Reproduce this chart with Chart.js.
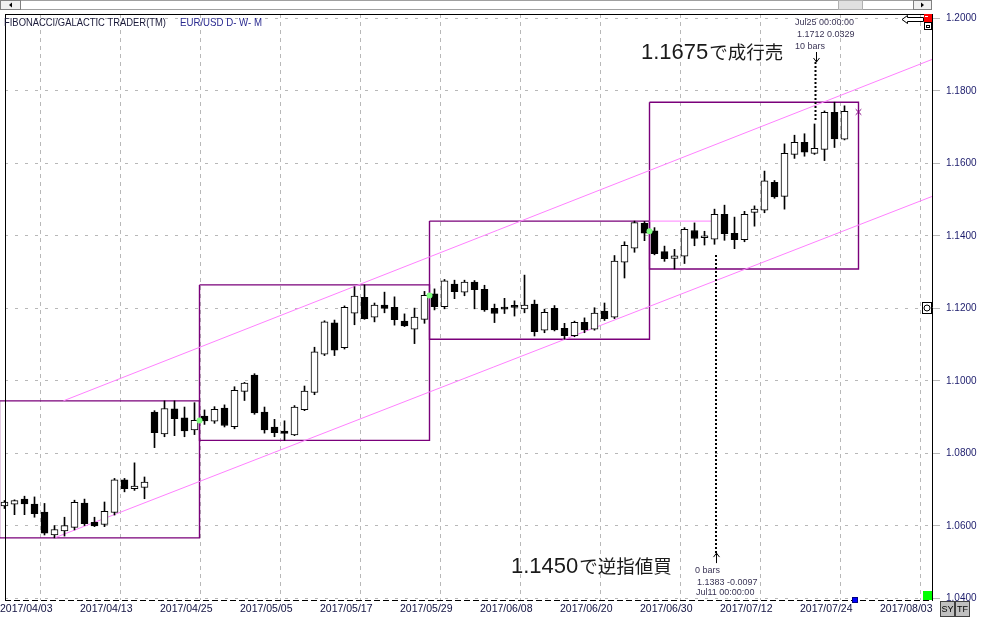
<!DOCTYPE html>
<html>
<head>
<meta charset="utf-8">
<script src="https://cdn.jsdelivr.net/npm/chart.js@4.4.1/dist/chart.umd.min.js"></script>
<style>
html, body { margin: 0; padding: 0; background: #fff; }
#wrap { width: 988px; height: 618px; }
</style>
</head>
<body>
<div id="wrap"><canvas id="myChart" width="988" height="618"></canvas></div>
<script>
// EUR/USD daily bars, 2017/04/03 .. 2017/07/28 (index 0 = 04/03)
const opens = [1.0655,1.0660,1.0674,1.0660,1.0638,1.0575,1.0586,1.0596,1.0663,1.0610,
    1.0604,1.0637,1.0727,1.0703,1.0706,1.0914,1.0854,1.0923,1.0898,1.0865,
    1.0903,1.0889,1.0925,1.0874,1.0971,1.1016,1.0914,1.0873,1.0862,1.0851,
    1.0921,1.0968,1.1074,1.1160,1.1092,1.1187,1.1231,1.1176,1.1209,1.1203,
    1.1165,1.1143,1.1170,1.1240,1.1205,1.1267,1.1245,1.1273,1.1253,1.1200,
    1.1199,1.1204,1.1199,1.1212,1.1140,1.1200,1.1145,1.1125,1.1162,1.1143,
    1.1193,1.1176,1.1328,1.1366,1.1435,1.1414,1.1357,1.1338,1.1344,1.1415,
    1.1395,1.1391,1.1460,1.1407,1.1390,1.1465,1.1471,1.1548,1.1509,1.1625,
    1.1658,1.1628,1.1639,1.1741,1.1667];
const highs = [1.0670,1.0672,1.0682,1.0680,1.0662,1.0601,1.0624,1.0671,1.0674,1.0624,
    1.0666,1.0731,1.0731,1.0774,1.0735,1.0918,1.0945,1.0945,1.0928,1.0940,
    1.0920,1.0929,1.0934,1.0984,1.0996,1.1020,1.0928,1.0894,1.0890,1.0932,
    1.0986,1.1093,1.1166,1.1168,1.1207,1.1260,1.1265,1.1215,1.1245,1.1232,
    1.1185,1.1201,1.1247,1.1254,1.1280,1.1278,1.1278,1.1277,1.1264,1.1212,
    1.1228,1.1221,1.1292,1.1223,1.1198,1.1208,1.1159,1.1165,1.1174,1.1202,
    1.1215,1.1346,1.1384,1.1441,1.1440,1.1423,1.1372,1.1363,1.1423,1.1436,
    1.1413,1.1474,1.1485,1.1452,1.1468,1.1483,1.1579,1.1553,1.1654,1.1678,
    1.1682,1.1709,1.1745,1.1769,1.1759];
const lows = [1.0648,1.0631,1.0631,1.0624,1.0575,1.0567,1.0572,1.0589,1.0601,1.0598,
    1.0598,1.0630,1.0694,1.0698,1.0675,1.0816,1.0846,1.0849,1.0846,1.0852,
    1.0880,1.0883,1.0873,1.0868,1.0946,1.0908,1.0856,1.0846,1.0836,1.0849,
    1.0918,1.0962,1.1070,1.1070,1.1088,1.1155,1.1170,1.1163,1.1188,1.1154,
    1.1150,1.1103,1.1159,1.1196,1.1199,1.1227,1.1235,1.1199,1.1192,1.1161,
    1.1186,1.1179,1.1188,1.1124,1.1133,1.1138,1.1115,1.1122,1.1133,1.1140,
    1.1167,1.1172,1.1284,1.1355,1.1387,1.1348,1.1330,1.1309,1.1324,1.1373,
    1.1375,1.1377,1.1388,1.1365,1.1384,1.1427,1.1464,1.1504,1.1474,1.1614,
    1.1620,1.1625,1.1608,1.1644,1.1665];
const closes = [1.0666,1.0670,1.0661,1.0634,1.0580,1.0590,1.0601,1.0665,1.0606,1.0600,
    1.0640,1.0727,1.0703,1.0710,1.0721,1.0857,1.0924,1.0896,1.0862,1.0891,
    1.0890,1.0922,1.0877,1.0974,1.0994,1.0912,1.0865,1.0857,1.0855,1.0928,
    1.0972,1.1080,1.1163,1.1085,1.1203,1.1234,1.1172,1.1209,1.1200,1.1169,
    1.1152,1.1176,1.1236,1.1205,1.1276,1.1246,1.1273,1.1252,1.1196,1.1186,
    1.1198,1.1203,1.1209,1.1136,1.1189,1.1141,1.1125,1.1162,1.1141,1.1187,
    1.1172,1.1331,1.1374,1.1437,1.1408,1.1351,1.1337,1.1345,1.1418,1.1393,
    1.1396,1.1460,1.1406,1.1390,1.1460,1.1474,1.1552,1.1508,1.1628,1.1658,
    1.1631,1.1642,1.1741,1.1668,1.1744];

// date labels every 8 bars (placed on the gap before the bar)
const tickLabels = ['2017/04/03','2017/04/13','2017/04/25','2017/05/05','2017/05/17','2017/05/29',
    '2017/06/08','2017/06/20','2017/06/30','2017/07/12','2017/07/24','2017/08/03'];
const tickBars = [-0.45, 7.55, 15.55, 23.55, 31.55, 39.55, 47.55, 55.55, 63.55, 71.55, 79.55, 87.55];
const priceTicks = [1.04, 1.06, 1.08, 1.10, 1.12, 1.14, 1.16, 1.18, 1.20];

// range boxes: bars covered and their edges
const boxRanges = [[0, 19], [20, 42], [43, 64], [65, 84]];
const boxEdges = [-0.5, 19.5, 42.5, 64.5, 85.4];

// channel lines [bar, price]
const upperLine = [[5.88, 1.0945], [92.75, 1.1887]];
const lowerLine = [[5.0, 1.0567], [92.75, 1.1509]];
const stopLine = [[64.5, 1.1441], [71.2, 1.1441]];

// dotted markers
const sellMark = {bar: 81.1, from: 1.1880, to: 1.1718};
const buyMark = {bar: 71.15, from: 1.0525, to: 1.1353};
const greenDots = [[19.5, 1.0891], [42.5, 1.1236], [64.5, 1.1413]];
const endMark = [[85.4, 1.1742]];

const clipOpt = {left: 5, top: 0, right: 0, bottom: 0};
const pts = arr => arr.map(p => ({x: p[0], y: p[1]}));

let wicks = [], bodies = [], bodyColors = [];
opens.forEach((o, i) => {
    wicks.push({x: i, y: [lows[i], highs[i]]});
    bodies.push({x: i, y: [o, closes[i]]});
    bodyColors.push(closes[i] >= o ? '#ffffff' : '#000000');
});

let boxSets = boxRanges.map((r, k) => {
    let hi = Math.max(...highs.slice(r[0], r[1] + 1));
    let lo = Math.min(...lows.slice(r[0], r[1] + 1));
    let x0 = boxEdges[k], x1 = boxEdges[k + 1];
    return {
        type: 'line',
        data: [{x: x0, y: hi}, {x: x1, y: hi}, {x: x1, y: lo}, {x: x0, y: lo}, {x: x0, y: hi}],
        borderColor: '#7a007a', borderWidth: 1.4, pointRadius: 0, order: 6, clip: clipOpt
    };
});

function line(data, color, extra) {
    return Object.assign({
        type: 'line', data: pts(data), borderColor: color, borderWidth: 1,
        pointRadius: 0, order: 5, clip: clipOpt
    }, extra || {});
}

Chart.defaults.font.family = '"Liberation Sans", Arial, sans-serif';

const decor = {
    id: 'decor',
    afterDraw(chart) {
        const c = chart.ctx, a = chart.chartArea;
        const xs = chart.scales.x, ys = chart.scales.y;
        c.save();
        // frame
        c.strokeStyle = '#000'; c.lineWidth = 1;
        c.beginPath();
        c.moveTo(a.left, a.top + 0.5); c.lineTo(a.right + 1, a.top + 0.5);
        c.moveTo(a.left + 0.5, a.top); c.lineTo(a.left + 0.5, a.bottom);
        c.stroke();
        c.setLineDash([6, 3]);
        c.beginPath(); c.moveTo(a.left, a.bottom + 0.5); c.lineTo(a.right, a.bottom + 0.5); c.stroke();
        c.setLineDash([]);

        // scroll bar
        c.fillStyle = '#fff'; c.fillRect(0, 0, 932, 10);
        c.strokeStyle = '#a0a0a0'; c.strokeRect(0.5, 0.5, 931, 9);
        c.fillStyle = '#f0f0f0'; c.fillRect(1, 1, 19, 8);
        c.strokeStyle = '#808080'; c.strokeRect(0.5, 0.5, 20, 9);
        c.fillRect(914, 1, 17, 8); c.strokeRect(913.5, 0.5, 18, 9);
        c.fillStyle = '#e0e0e0'; c.fillRect(838, 1, 24, 8);
        c.strokeStyle = '#b0b0b0'; c.strokeRect(838.5, 0.5, 24, 9);
        c.fillStyle = '#000';
        c.beginPath(); c.moveTo(9, 5); c.lineTo(12, 2.5); c.lineTo(12, 7.5); c.fill();
        c.beginPath(); c.moveTo(924, 5); c.lineTo(921, 2.5); c.lineTo(921, 7.5); c.fill();

        // corner icons
        c.fillStyle = '#fff'; c.strokeStyle = '#000';
        c.beginPath();
        c.moveTo(902, 19.5); c.lineTo(907.5, 15.5); c.lineTo(907.5, 17.5); c.lineTo(923.5, 17.5);
        c.lineTo(923.5, 21.5); c.lineTo(907.5, 21.5); c.lineTo(907.5, 23.5); c.closePath();
        c.fill(); c.stroke();
        c.fillStyle = '#ff0000'; c.fillRect(924, 14, 8, 8);
        c.fillStyle = '#fff'; c.fillRect(925, 16, 3, 1);
        c.strokeRect(924.5, 22.5, 7, 7); c.strokeRect(926.5, 25.5, 3, 2);
        c.fillStyle = '#fff'; c.fillRect(922, 302, 10, 12);
        c.strokeRect(922.5, 302.5, 9, 11);
        c.beginPath(); c.arc(927, 308, 3, 0, Math.PI * 2); c.stroke();
        c.fillStyle = '#00ff00'; c.fillRect(923, 591, 9, 9);
        c.fillStyle = '#0000ff'; c.fillRect(853, 598, 4, 4);
        c.strokeStyle = '#000080'; c.strokeRect(852.5, 597.5, 5, 5);

        // SY / TF buttons
        c.strokeStyle = '#404040';
        [[940, 'SY'], [955, 'TF']].forEach(b => {
            c.fillStyle = '#c0c0c0'; c.fillRect(b[0], 601, 15, 16);
            c.strokeRect(b[0] + 0.5, 601.5, 14, 15);
            c.fillStyle = '#000'; c.font = '9px "Liberation Sans", Arial';
            c.textAlign = 'center'; c.textBaseline = 'middle';
            c.fillText(b[1], b[0] + 7.5, 609.5, 12);
        });

        // title
        c.textAlign = 'left'; c.textBaseline = 'middle';
        c.font = '11px "Liberation Sans", Arial';
        c.fillStyle = '#1a1a3a';
        c.fillText('FIBONACCI/GALACTIC TRADER(TM)', 4, 22.5, 162);
        c.fillStyle = '#2a2a90';
        c.fillText('EUR/USD D- W- M', 180, 22.5, 82);

        // marker labels
        c.font = '9px "Liberation Sans", Arial';
        c.fillStyle = '#3b3556';
        c.fillText('Jul25 00:00:00', 795, 22.5);
        c.fillText('1.1712 0.0329', 797, 34.5);
        c.fillText('10 bars', 795, 46.5);
        c.fillText('0 bars', 695, 570.5);
        c.fillText('1.1383 -0.0097', 697, 582.5);
        c.fillText('Jul11 00:00:00', 696, 593);

        // arrows at the end of the dotted markers
        c.strokeStyle = '#000'; c.lineWidth = 1;
        let sx = Math.round(xs.getPixelForValue(sellMark.bar)) + 0.5;
        let sy = ys.getPixelForValue(sellMark.from);
        c.beginPath(); c.moveTo(sx, sy - 10); c.lineTo(sx, sy);
        c.moveTo(sx - 3, sy - 4); c.lineTo(sx, sy); c.lineTo(sx + 3, sy - 4); c.stroke();
        let bx = Math.round(xs.getPixelForValue(buyMark.bar)) + 0.5;
        let by = ys.getPixelForValue(buyMark.from);
        c.beginPath(); c.moveTo(bx, by + 10); c.lineTo(bx, by);
        c.moveTo(bx - 3, by + 4); c.lineTo(bx, by); c.lineTo(bx + 3, by + 4); c.stroke();

        // order notes
        c.textBaseline = 'alphabetic';
        c.fillStyle = '#1a1a1a';
        [[641, 58.5, '1.1675', 'で成行売'], [511, 572.5, '1.1450', 'で逆指値買']].forEach(t => {
            c.font = '22px "Liberation Sans", Arial';
            c.fillText(t[2], t[0], t[1]);
            let w = c.measureText(t[2]).width;
            c.font = '18.5px "Noto Sans CJK JP"';
            c.fillText(t[3], t[0] + w + 1, t[1]);
        });
        c.restore();
    }
};

let ctx = document.getElementById('myChart').getContext('2d');
let chart = new Chart(ctx, {
    type: 'bar',
    data: {
        datasets: [
            {label: 'wick', data: wicks, backgroundColor: '#000', barThickness: 1, grouped: false, order: 4, clip: clipOpt},
            {label: 'body', data: bodies, backgroundColor: bodyColors, borderColor: '#000', borderWidth: 1,
             borderSkipped: false, barThickness: 7, minBarLength: 2, grouped: false, order: 3, clip: clipOpt},
            ...boxSets,
            line(upperLine, '#ff80ff'),
            line(lowerLine, '#ff80ff'),
            line(stopLine, '#ff80ff'),
            line([[sellMark.bar, sellMark.from], [sellMark.bar, sellMark.to]], '#000', {borderWidth: 2, borderDash: [2, 2], order: 2}),
            line([[buyMark.bar, buyMark.from], [buyMark.bar, buyMark.to]], '#000', {borderWidth: 2, borderDash: [2, 2], order: 2}),
            line(greenDots, '#80ff80', {showLine: false, pointRadius: 3, pointBackgroundColor: '#80ff80', pointBorderWidth: 0, order: 1}),
            line(endMark, '#800080', {showLine: false, pointStyle: 'crossRot', pointRadius: 4, pointBorderColor: '#800080', pointBorderWidth: 1, order: 1})
        ]
    },
    options: {
        responsive: false,
        animation: false,
        devicePixelRatio: 1,
        events: [],
        layout: {padding: {left: 5, top: 14, right: 0, bottom: 0}},
        plugins: {legend: {display: false}, tooltip: {enabled: false}},
        scales: {
            x: {
                type: 'linear', min: 0.05, max: 92.75, offset: false, bounds: 'data',
                afterBuildTicks: s => { s.ticks = tickBars.map(v => ({value: v})); },
                afterFit: s => { s.height = 18; s.paddingLeft = 0; s.paddingRight = 0; },
                ticks: {autoSkip: false, maxRotation: 0, align: 'start', padding: 3, color: '#101040',
                        font: {size: 10.5}, callback: (v, i) => tickLabels[i]},
                grid: {color: c => c.index === 0 ? 'rgba(0,0,0,0)' : '#b8b8b8', drawTicks: false, lineWidth: 1},
                border: {display: false, dash: [4, 4]}
            },
            y: {
                type: 'linear', position: 'right', min: 1.03956, max: 1.20124, bounds: 'data',
                afterBuildTicks: s => { s.ticks = priceTicks.map(v => ({value: v})); },
                afterFit: s => { s.width = 56; s.paddingTop = 0; s.paddingBottom = 0; },
                ticks: {padding: 6, color: '#1c1c6c', font: {size: 10}, callback: v => v.toFixed(4)},
                grid: {color: '#b8b8b8', tickLength: 8, lineWidth: 1},
                border: {display: true, color: '#000', width: 1, dash: [3, 7]}
            }
        }
    },
    plugins: [decor]
});
</script>
</body>
</html>
